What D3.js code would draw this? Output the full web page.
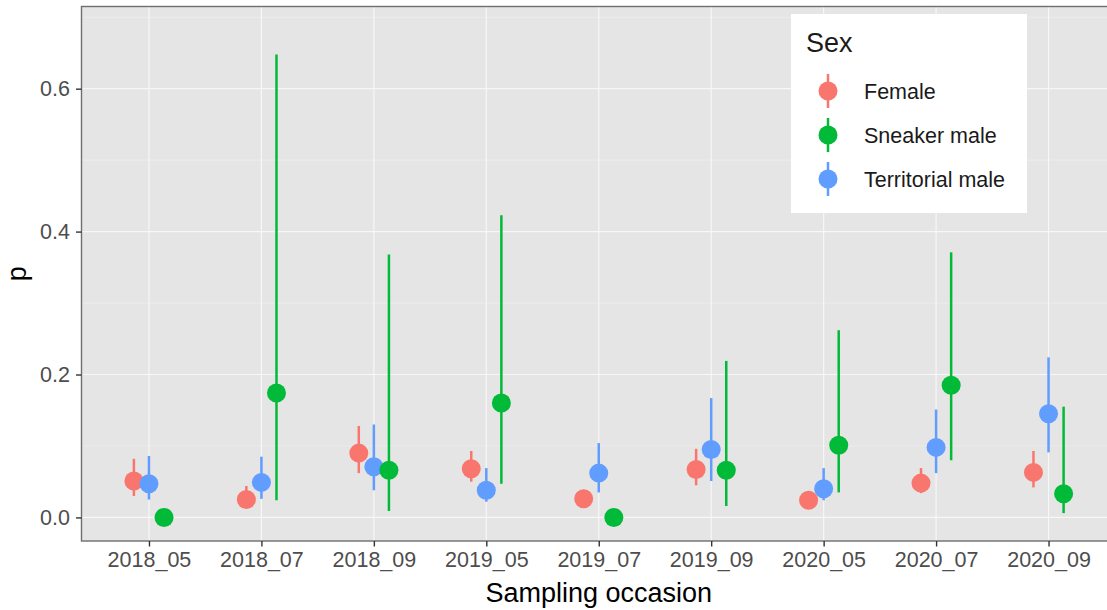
<!DOCTYPE html>
<html>
<head>
<meta charset="utf-8">
<script src="https://cdn.jsdelivr.net/npm/d3@7"></script>
<style>
  body { margin: 0; background: #fff; }
  svg { display: block; font-family: "Liberation Sans", Arial, sans-serif; }
</style>
</head>
<body>
<svg id="chart" width="1107" height="610"></svg>
<script>
// Estimated proportions (p) with intervals per sampling occasion and sex
const occasions = ["2018_05", "2018_07", "2018_09", "2019_05", "2019_07", "2019_09", "2020_05", "2020_07", "2020_09"];
const sexes = ["Female", "Sneaker male", "Territorial male"];
const drawOrder = ["Female", "Territorial male", "Sneaker male"];
const colors = ["#F8766D", "#00BA38", "#619CFF"];

const pFemale = [0.051, 0.025, 0.090, 0.068, 0.026, 0.067, 0.024, 0.048, 0.063];
const lowFemale = [0.030, 0.014, 0.062, 0.050, 0.017, 0.045, 0.016, 0.034, 0.042];
const highFemale = [0.082, 0.044, 0.128, 0.093, 0.037, 0.096, 0.035, 0.069, 0.093];

const pSneaker = [0.000, 0.174, 0.066, 0.160, 0.000, 0.066, 0.101, 0.185, 0.033];
const lowSneaker = [0.000, 0.024, 0.009, 0.047, 0.000, 0.016, 0.035, 0.080, 0.006];
const highSneaker = [0.000, 0.648, 0.368, 0.423, 0.000, 0.219, 0.262, 0.371, 0.155];

const pTerritorial = [0.047, 0.049, 0.071, 0.038, 0.062, 0.095, 0.040, 0.098, 0.145];
const lowTerritorial = [0.025, 0.026, 0.038, 0.022, 0.035, 0.051, 0.024, 0.062, 0.091];
const highTerritorial = [0.086, 0.085, 0.130, 0.069, 0.104, 0.167, 0.069, 0.151, 0.224];

const yTicks = [0.0, 0.2, 0.4, 0.6];
const yMinorTicks = [0.1, 0.3, 0.5, 0.7];

const series = {
    "Female": { p: pFemale, lo: lowFemale, hi: highFemale },
    "Sneaker male": { p: pSneaker, lo: lowSneaker, hi: highSneaker },
    "Territorial male": { p: pTerritorial, lo: lowTerritorial, hi: highTerritorial }
};

const svg = d3.select('#chart');
const panel = { left: 81.5, top: 6.5, right: 1116, bottom: 541 };

const color = d3.scaleOrdinal().domain(sexes).range(colors);

const x = d3.scalePoint()
    .domain(occasions)
    .range([panel.left, panel.right])
    .padding(0.6);

// dodge within each occasion
const dodge = d3.scalePoint()
    .domain(drawOrder)
    .range([-x.step() * 0.134, x.step() * 0.134]);

const y = d3.scaleLinear()
    .domain([-0.033, 0.715])
    .range([panel.bottom, panel.top]);

// Panel background
svg.append('rect')
    .attr('x', panel.left)
    .attr('y', panel.top)
    .attr('width', panel.right - panel.left)
    .attr('height', panel.bottom - panel.top)
    .style('fill', '#E5E5E5');

const grid = svg.append('g');

grid.selectAll('.minor')
    .data(yMinorTicks)
    .enter()
    .append('line')
    .attr('x1', panel.left)
    .attr('x2', panel.right)
    .attr('y1', d => y(d))
    .attr('y2', d => y(d))
    .style('stroke', '#F2F2F2')
    .style('stroke-width', 0.6);

grid.selectAll('.major-y')
    .data(yTicks)
    .enter()
    .append('line')
    .attr('x1', panel.left)
    .attr('x2', panel.right)
    .attr('y1', d => y(d))
    .attr('y2', d => y(d))
    .style('stroke', '#F7F7F7')
    .style('stroke-width', 1.2);

grid.selectAll('.major-x')
    .data(occasions)
    .enter()
    .append('line')
    .attr('x1', d => x(d))
    .attr('x2', d => x(d))
    .attr('y1', panel.top)
    .attr('y2', panel.bottom)
    .style('stroke', '#F7F7F7')
    .style('stroke-width', 1.2);

// Build rows for drawing
const rows = [];
drawOrder.forEach(sex => {
    occasions.forEach((occ, i) => {
        rows.push({
            sex: sex,
            occ: occ,
            p: series[sex].p[i],
            lo: series[sex].lo[i],
            hi: series[sex].hi[i]
        });
    });
});

const marks = svg.append('g');

marks.selectAll('line')
    .data(rows)
    .enter()
    .append('line')
    .attr('x1', d => x(d.occ) + dodge(d.sex))
    .attr('x2', d => x(d.occ) + dodge(d.sex))
    .attr('y1', d => y(d.lo))
    .attr('y2', d => y(d.hi))
    .style('stroke', d => color(d.sex))
    .style('stroke-width', 2.5);

marks.selectAll('circle')
    .data(rows)
    .enter()
    .append('circle')
    .attr('cx', d => x(d.occ) + dodge(d.sex))
    .attr('cy', d => y(d.p))
    .attr('r', 9.5)
    .style('fill', d => color(d.sex));

// Legend
const legend = svg.append('g')
    .attr('class', 'legend')
    .attr('transform', 'translate(791, 14)');

legend.append('rect')
    .attr('width', 236)
    .attr('height', 199)
    .style('fill', '#FFFFFF');

legend.append('text')
    .attr('x', 15)
    .attr('y', 38)
    .style('font-size', '27px')
    .style('fill', '#1A1A1A')
    .text('Sex');

const legendItems = legend.selectAll('.legend-item')
    .data(sexes)
    .enter()
    .append('g')
    .attr('class', 'legend-item')
    .attr('transform', (d, i) => `translate(37, ${77 + i * 44})`);

legendItems.append('line')
    .attr('y1', -17)
    .attr('y2', 17)
    .style('stroke', d => color(d))
    .style('stroke-width', 2.5);

legendItems.append('circle')
    .attr('r', 9.5)
    .style('fill', d => color(d));

legendItems.append('text')
    .attr('x', 36)
    .attr('y', 8)
    .style('font-size', '21.5px')
    .style('fill', '#1A1A1A')
    .text(d => d);

// Panel border
svg.append('rect')
    .attr('x', panel.left)
    .attr('y', panel.top)
    .attr('width', panel.right - panel.left)
    .attr('height', panel.bottom - panel.top)
    .style('fill', 'none')
    .style('stroke', '#6E6E6E')
    .style('stroke-width', 1.4);

// Axes
const xAxis = svg.append('g')
    .attr('transform', `translate(0, ${panel.bottom})`)
    .call(d3.axisBottom(x).tickSize(5.5).tickPadding(5));
xAxis.select('.domain').remove();
xAxis.selectAll('.tick line').style('stroke', '#333333').style('stroke-width', 1.4);
xAxis.selectAll('.tick text')
    .style('font-size', '21.5px')
    .style('fill', '#4D4D4D')
    .style('font-family', '"Liberation Sans", Arial, sans-serif');

const yAxis = svg.append('g')
    .attr('transform', `translate(${panel.left}, 0)`)
    .call(d3.axisLeft(y).tickValues(yTicks).tickFormat(d3.format('.1f')).tickSize(5.5).tickPadding(6));
yAxis.select('.domain').remove();
yAxis.selectAll('.tick line').style('stroke', '#333333').style('stroke-width', 1.4);
yAxis.selectAll('.tick text')
    .style('font-size', '21.5px')
    .style('fill', '#4D4D4D')
    .style('font-family', '"Liberation Sans", Arial, sans-serif');

// Axis titles
svg.append('text')
    .attr('x', (panel.left + panel.right) / 2)
    .attr('y', 602)
    .attr('text-anchor', 'middle')
    .style('font-size', '27px')
    .style('fill', '#000')
    .text('Sampling occasion');

svg.append('text')
    .attr('transform', `translate(26, ${(panel.top + panel.bottom) / 2}) rotate(-90)`)
    .attr('text-anchor', 'middle')
    .style('font-size', '27px')
    .style('fill', '#000')
    .text('p');
</script>
</body>
</html>
